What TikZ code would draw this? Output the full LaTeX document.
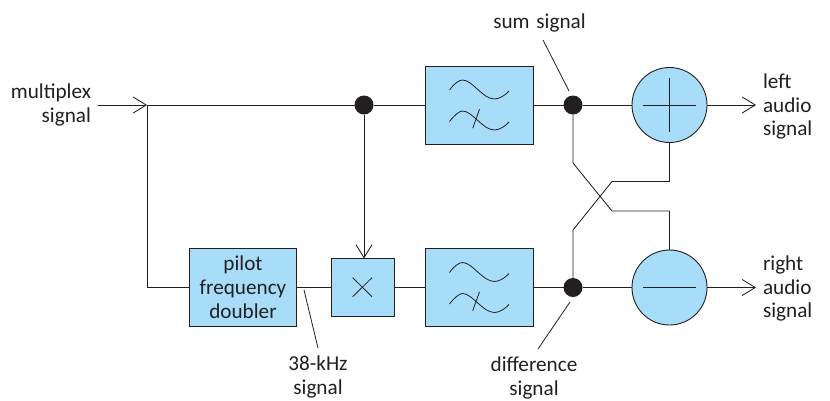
\documentclass[tikz,border=0pt]{standalone}
\usepackage{fontspec}
\setmainfont{Carlito}
\usetikzlibrary{arrows.meta}
\definecolor{boxblue}{HTML}{A8DDFA}
\definecolor{ink}{HTML}{231F20}
\tikzset{
  wire/.style={draw=ink,line width=0.85pt},
  barb/.style={wire,-{Straight Barb[length=13pt,width=16pt,line width=0.85pt]}},
  leader/.style={draw=ink,line width=0.8pt},
  block/.style={draw=ink,fill=boxblue,line width=1pt,rectangle,inner sep=0pt,outer sep=0pt,align=center,font=\fontsize{21.2}{23.8}\selectfont,text=ink},
  adder/.style={draw=ink,fill=boxblue,line width=0.9pt,circle,inner sep=0pt,outer sep=0pt,minimum size=75pt},
  junction/.style={fill=ink,circle,inner sep=0pt,outer sep=0pt,minimum size=19pt},
  lbl/.style={inner sep=0pt,outer sep=0pt,text=ink,font=\fontsize{21.2}{23.8}\selectfont},
  sym/.style={draw=ink,line width=0.8pt},
  pics/filtersym/.style={code={
    \draw[sym] (-30,-15) .. controls (-25,-22) and (-20,-25) .. (-17,-25) .. controls (-7,-25) and (3,-6) .. (15,-6) .. controls (20,-6) and (26,-10) .. (29.5,-14);
    \draw[sym] (-30,16.5) .. controls (-25,10) and (-20,6) .. (-17,6) .. controls (-7,6) and (3,25) .. (15,25) .. controls (20,25) and (26,21) .. (29.5,17);
    \draw[sym] (0,4.3) -- (-6.8,23.3);
  }}
}
\begin{document}
\begin{tikzpicture}[x=1pt,y=-1pt]
\useasboundingbox (0,0) rectangle (830,400);
% blocks
\node[block,minimum width=107.5pt,minimum height=78pt] (f1) at (479.5,105) {};
\node[block,minimum width=107.5pt,minimum height=78pt] (f2) at (479.5,287.5) {};
\node[block,minimum width=107.5pt,minimum height=78pt] (pilot) at (243,287.5) {pilot\\frequency\\doubler};
\node[block,minimum width=63pt,minimum height=58pt] (mix) at (362.5,287.5) {};
\node[adder] (add) at (669.5,105) {};
\node[adder] (sub) at (669.5,287.5) {};
\node[junction] (j1) at (364,105) {};
\node[junction] (j2) at (573,105) {};
\node[junction] (j3) at (573,287.5) {};
% free ends
\coordinate (in) at (98,105);
\coordinate (split) at (147,105);
\coordinate (corner) at (147,287.5);
\coordinate (outL) at (756,105);
\coordinate (outR) at (756,287.5);
% signal path
\draw[barb] (in) -- (split);
\draw[wire] (split) -- (j1);
\draw[wire] (split) -- (corner) -- (pilot.west);
\draw[wire] (j1) -- (f1.west);
\draw[wire] (f1.east) -- (j2);
\draw[wire] (j2) -- (add.west);
\draw[barb] (add.east) -- (outL);
\draw[barb] (j1) -- (mix.north -| j1);
\draw[wire] (pilot.east) -- (mix.west);
\draw[wire] (mix.east) -- (f2.west);
\draw[wire] (f2.east) -- (j3);
\draw[wire] (j3) -- (sub.west);
\draw[barb] (sub.east) -- (outR);
% crossover
\coordinate (a1) at (573,163);
\coordinate (a2) at (612,211);
\coordinate (a3) at (669.5,211);
\coordinate (b1) at (573,230);
\coordinate (b2) at (612,181.5);
\coordinate (b3) at (669.5,181.5);
\draw[wire] (j2) -- (a1) -- (a2) -- (a3) -- (sub.north);
\draw[wire] (j3) -- (b1) -- (b2) -- (b3) -- (add.south);
% symbols
\pic at (f1) {filtersym};
\pic at (f2) {filtersym};
\draw[sym] (352.7,277.7) -- (372,296.7) (372,277.7) -- (352.7,296.7);
\draw[sym] (643,105) -- (696,105) (669.5,78) -- (669.5,132);
\draw[sym] (643,287.5) -- (696,287.5);
% labels
\node[lbl,align=right,anchor=east] (lmux) at (91,105) {multiplex\\signal};
\node[lbl] (lsum) at (539.5,23) {sum\hspace{2pt} signal};
\node[lbl,align=left,anchor=west] (lleft) at (763,106.5) {left\\audio\\signal};
\node[lbl,align=left,anchor=west] (lright) at (763,288.5) {right\\audio\\signal};
\node[lbl,align=center] (l38) at (318,377) {38-kHz\\signal};
\node[lbl,align=center] (ldiff) at (534,378) {difference\\signal};
% leaders
\coordinate (s1) at (543,40);
\coordinate (s2) at (569,91);
\coordinate (d1) at (570,302);
\coordinate (d2) at (538,349);
\coordinate (k1) at (304,290);
\coordinate (k2) at (318,348);
\draw[leader] (s1) -- (s2);
\draw[leader] (d1) -- (d2);
\draw[leader] (k1) -- (k2);
\end{tikzpicture}
\end{document}
